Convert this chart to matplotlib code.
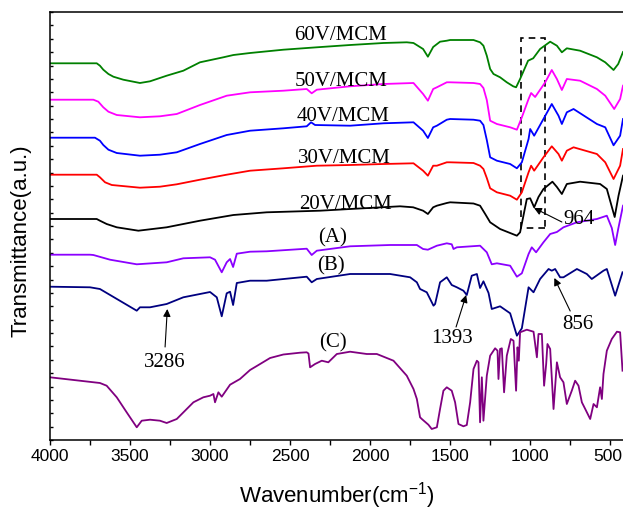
import matplotlib
matplotlib.use("Agg")
import matplotlib.pyplot as plt
from matplotlib.patches import Rectangle
from matplotlib.ticker import MultipleLocator, FixedLocator

# ---- spectra (wavenumber cm-1, transmittance a.u.) ----
wn_60 = [4000, 3708, 3688, 3667, 3635, 3604, 3542, 3438, 3375, 3271, 3167, 3063, 2917, 2854, 2750,
         2542, 2333, 2125, 1917, 1771, 1729, 1669, 1639, 1606, 1563, 1521, 1500, 1354, 1313, 1292,
         1271, 1250, 1229, 1188, 1146, 1106, 1088, 1063, 1013, 981, 938, 875, 833, 802, 771, 688,
         583, 531, 479, 450, 420]
t_60 = [376.7, 376.7, 374.3, 370.3, 366.0, 363.3, 360.3, 357.0, 358.7, 364.3, 369.3, 377.7, 382.7,
        385.0, 387.0, 390.3, 392.7, 395.0, 397.0, 397.7, 397.0, 391.0, 383.3, 393.0, 398.3, 399.3,
        400.0, 400.0, 397.7, 394.3, 384.3, 371.0, 366.0, 362.7, 357.7, 353.7, 352.7, 361.0, 379.3,
        381.7, 391.0, 398.3, 394.3, 387.7, 391.7, 389.3, 382.7, 377.7, 370.0, 376.0, 388.0]

wn_50 = [4000, 3729, 3698, 3667, 3635, 3583, 3438, 3313, 3208, 3063, 2896, 2750, 2542, 2396, 2365,
         2333, 2125, 1917, 1729, 1669, 1639, 1606, 1583, 1521, 1500, 1354, 1313, 1292, 1271, 1250,
         1208, 1125, 1083, 1052, 1010, 994, 969, 906, 865, 833, 802, 771, 688, 583, 531, 475, 438,
         420]
t_50 = [340.3, 340.3, 338.3, 332.7, 328.3, 325.0, 322.7, 323.7, 326.0, 335.0, 344.3, 347.7, 349.3,
        351.0, 346.7, 350.3, 353.7, 356.0, 357.0, 346.0, 339.3, 351.0, 352.7, 357.7, 357.7, 357.0,
        356.0, 352.0, 340.0, 319.3, 316.0, 312.7, 310.3, 322.7, 341.0, 347.0, 343.0, 357.7, 370.0,
        361.0, 350.0, 361.0, 359.3, 351.0, 344.3, 331.0, 341.0, 354.3]

wn_40 = [4000, 3719, 3688, 3667, 3635, 3583, 3438, 3313, 3208, 3063, 2896, 2750, 2542, 2396, 2369,
         2344, 2125, 1917, 1729, 1669, 1639, 1606, 1583, 1521, 1500, 1354, 1313, 1292, 1271, 1250,
         1208, 1125, 1083, 1052, 1010, 1000, 975, 917, 865, 823, 802, 771, 729, 583, 531, 479, 438,
         420]
t_40 = [302.3, 302.3, 299.3, 295.0, 290.3, 287.0, 284.3, 285.3, 287.7, 296.0, 305.0, 309.3, 311.7,
        313.7, 317.7, 315.0, 314.3, 316.7, 317.7, 309.3, 302.0, 312.7, 314.3, 320.3, 321.0, 320.3,
        319.3, 315.0, 300.0, 282.7, 279.3, 276.0, 271.7, 277.7, 301.0, 311.0, 304.3, 321.0, 336.0,
        324.3, 316.0, 327.7, 331.0, 316.0, 312.7, 294.7, 304.3, 321.0]

wn_30 = [4000, 3708, 3688, 3656, 3614, 3438, 3313, 3208, 3063, 2896, 2750, 2542, 2333, 2125, 1917,
         1729, 1669, 1639, 1606, 1583, 1521, 1500, 1354, 1313, 1292, 1271, 1250, 1208, 1125, 1083,
         1052, 1010, 994, 975, 917, 865, 823, 802, 771, 729, 583, 531, 479, 438, 420]
t_30 = [265.3, 265.3, 262.7, 257.7, 255.0, 252.3, 253.3, 255.7, 260.3, 265.3, 269.3, 271.7, 274.3,
        275.0, 276.0, 276.7, 269.3, 264.3, 274.3, 274.3, 277.7, 277.7, 277.0, 274.3, 271.0, 262.0,
        251.7, 247.7, 244.3, 240.3, 247.7, 267.7, 274.3, 269.3, 282.7, 293.7, 286.0, 279.3, 289.3,
        292.7, 286.0, 277.7, 261.0, 274.3, 291.0]

wn_20 = [4000, 3708, 3688, 3646, 3583, 3448, 3271, 3167, 3063, 2854, 2646, 2313, 2125, 1813, 1731,
         1669, 1639, 1606, 1583, 1521, 1500, 1354, 1313, 1281, 1250, 1188, 1083, 1063, 1021, 1000,
         975, 948, 917, 861, 833, 802, 771, 688, 563, 521, 472, 448, 420]
t_20 = [221.0, 221.0, 219.3, 216.0, 212.7, 209.3, 212.7, 216.0, 219.3, 225.0, 227.7, 229.3, 231.0,
        233.7, 232.7, 229.3, 226.0, 232.7, 234.3, 237.0, 237.7, 236.5, 234.3, 226.0, 217.7, 211.0,
        204.3, 207.7, 241.0, 241.7, 232.7, 243.0, 251.0, 258.3, 253.0, 246.0, 256.0, 258.3, 256.0,
        251.0, 223.0, 244.3, 264.3]

wn_a = [4000, 3750, 3729, 3625, 3458, 3271, 3167, 3000, 2969, 2927, 2896, 2875, 2856, 2833, 2750,
        2646, 2396, 2365, 2333, 2125, 1875, 1708, 1669, 1639, 1583, 1521, 1490, 1479, 1458, 1313,
        1271, 1240, 1208, 1125, 1083, 1052, 1010, 990, 963, 917, 875, 833, 792, 708, 583, 521,
        490, 469, 450, 420]
t_a = [185.3, 185.3, 185.0, 180.3, 175.7, 177.7, 181.7, 182.7, 180.3, 167.7, 177.7, 181.0, 173.0,
       186.3, 188.3, 188.7, 191.3, 185.0, 189.3, 193.7, 195.0, 195.0, 191.0, 190.3, 194.3, 196.7,
       195.7, 191.0, 192.7, 194.3, 187.7, 175.7, 176.7, 174.3, 163.3, 166.7, 186.0, 192.7, 187.7,
       197.7, 206.0, 208.0, 212.7, 217.7, 221.0, 224.3, 212.0, 195.0, 211.0, 234.3]

wn_b = [4000, 3750, 3688, 3458, 3438, 3375, 3271, 3167, 3000, 2958, 2927, 2896, 2875, 2856, 2833,
        2750, 2646, 2396, 2365, 2333, 2125, 1875, 1750, 1708, 1688, 1646, 1604, 1594, 1563, 1521,
        1490, 1458, 1417, 1396, 1365, 1333, 1313, 1292, 1260, 1240, 1188, 1125, 1083, 1052, 1010,
        979, 938, 885, 865, 844, 813, 792, 708, 646, 615, 542, 521, 469, 423]
t_b = [153.3, 152.7, 151.0, 129.3, 132.7, 132.7, 136.0, 142.7, 148.0, 142.7, 123.7, 146.7, 148.3,
       135.0, 157.0, 159.3, 159.3, 163.3, 157.7, 161.0, 166.0, 166.0, 162.7, 157.7, 151.0, 147.7,
       134.3, 136.0, 157.7, 162.7, 155.0, 152.7, 149.3, 145.0, 164.3, 166.0, 152.0, 158.7, 147.0,
       131.0, 133.7, 126.7, 104.3, 111.7, 152.7, 147.7, 161.0, 171.0, 169.3, 171.0, 162.7, 162.7,
       171.0, 166.0, 161.0, 169.3, 171.0, 144.3, 167.7]

wn_c = [4000, 3688, 3646, 3583, 3521, 3458, 3427, 3375, 3313, 3271, 3208, 3104, 3042, 3000, 2979,
        2969, 2948, 2927, 2875, 2813, 2750, 2708, 2625, 2542, 2438, 2396, 2385, 2375, 2344, 2302,
        2261, 2208, 2125, 2021, 1958, 1854, 1771, 1729, 1708, 1688, 1677, 1636, 1615, 1583, 1563,
        1542, 1521, 1490, 1469, 1448, 1417, 1396, 1375, 1354, 1333, 1323, 1313, 1302, 1292, 1271,
        1250, 1219, 1204, 1198, 1188, 1177, 1163, 1146, 1121, 1104, 1088, 1079, 1071, 1063, 1021,
        979, 958, 948, 927, 913, 900, 892, 875, 854, 833, 813, 792, 771, 740, 719, 698, 677, 656,
        625, 604, 583, 563, 552, 542, 521, 490, 458, 438, 423]
t_c = [62.7, 57.0, 54.3, 42.7, 27.7, 12.7, 19.3, 20.3, 19.3, 17.0, 21.0, 37.7, 42.7, 44.3, 46.0,
       37.7, 47.7, 43.3, 55.3, 61.0, 70.0, 74.0, 82.0, 85.5, 87.3, 87.7, 86.5, 72.7, 76.0, 79.3,
       77.7, 86.0, 88.3, 86.0, 86.0, 79.3, 64.3, 51.0, 41.0, 22.7, 21.0, 15.3, 11.0, 12.7, 31.0,
       49.3, 52.7, 49.3, 37.7, 16.0, 13.7, 15.0, 37.7, 71.0, 79.3, 77.7, 17.7, 62.7, 19.3, 64.3,
       84.3, 91.7, 89.3, 61.0, 91.0, 91.7, 47.7, 84.3, 101.0, 99.3, 49.3, 92.7, 79.3, 107.7, 110.3,
       108.3, 82.7, 106.0, 106.0, 54.3, 76.0, 96.0, 91.0, 31.0, 77.7, 62.7, 57.7, 36.0, 49.3, 59.3,
       54.3, 37.7, 31.0, 21.0, 36.0, 32.7, 52.7, 41.0, 66.0, 89.3, 101.0, 108.3, 107.7, 69.3]

series = [
    (wn_60, t_60, "#008000"),
    (wn_50, t_50, "#FF00FF"),
    (wn_40, t_40, "#0000FF"),
    (wn_30, t_30, "#FF0000"),
    (wn_20, t_20, "#000000"),
    (wn_a, t_a, "#8B00FF"),
    (wn_b, t_b, "#000080"),
    (wn_c, t_c, "#800080"),
]

# curve labels: (text, right-edge wavenumber, baseline)
sample_labels = [("60V/MCM", 1896, 401.0), ("50V/MCM", 1890, 355.2), ("40V/MCM", 1879, 320.2),
                 ("30V/MCM", 1871, 278.0), ("20V/MCM", 1865, 232.0)]
ref_labels = [("(A)", 2234, 203.0), ("(B)", 2245, 175.2), ("(C)", 2234, 97.7)]
# peak marks: (text, text x, text baseline, arrow tail, arrow head)
peaks = [("3286", 3286, 74.3, (3281, 93), (3267, 131)),
         ("1393", 1490, 97.7, (1463, 113), (1400, 145)),
         ("856", 703, 111.7, (750, 129), (849, 162)),
         ("964", 693, 216.5, (802, 218), (976, 232))]
xticks = [4000, 3500, 3000, 2500, 2000, 1500, 1000, 500]

serif = "Liberation Serif"
sans = "Liberation Sans"
plt.rcParams["mathtext.fontset"] = "custom"
plt.rcParams["mathtext.rm"] = sans
plt.rcParams["mathtext.it"] = sans

fig = plt.figure(figsize=(6.23, 5.10), dpi=100)
ax = fig.add_axes([50 / 623, 69 / 510, 573 / 623, 428 / 510])

for wn, t, c in series:
    ax.plot(wn, t, color=c, lw=1.3)

for txt, x, y in sample_labels:
    ax.text(x, y, txt, family=serif, fontsize=15, ha="right", va="baseline")
for txt, x, y in ref_labels:
    ax.text(x, y, txt, family=serif, fontsize=15, ha="center", va="center")
for txt, x, y, tail, head in peaks:
    ax.text(x, y, txt, family=serif, fontsize=15, ha="center", va="baseline")
    ax.annotate("", xy=head, xytext=tail,
                arrowprops=dict(arrowstyle="-|>", color="black", lw=0.8,
                                mutation_scale=11, shrinkA=0, shrinkB=0))

# dashed box around the 964 band
ax.add_patch(Rectangle((906, 211.7), 1058 - 906, 402 - 211.7, fill=False,
                       ec="black", lw=1.2, ls=(0, (4, 3))))

ax.set_xlim(4000, 420)
ax.set_ylim(0, 428)
ax.xaxis.set_major_locator(FixedLocator(xticks))
ax.xaxis.set_minor_locator(MultipleLocator(250))
# last label sits on the image edge, drawn by hand a touch to the left
ax.set_xticklabels([str(v) for v in xticks[:-1]] + [""])
ax.text(512, -0.0178, str(xticks[-1]), transform=ax.get_xaxis_transform(),
        family=sans, fontsize=12.5, ha="center", va="top")
ax.yaxis.set_major_locator(MultipleLocator(26.75))
ax.yaxis.set_minor_locator(MultipleLocator(13.375))
ax.tick_params(axis="x", which="both", direction="out", length=3.5, width=1, pad=2,
               labelsize=12.5)
ax.tick_params(axis="y", which="both", direction="in", length=2, width=1, labelleft=False)
for lab in ax.get_xticklabels():
    lab.set_family(sans)
ax.spines["right"].set_visible(False)
for s in ["left", "bottom", "top"]:
    ax.spines[s].set_linewidth(1.1)

fig.text(337 / 623, 1 - 496 / 510, "Wavenumber(cm$^{-1}$)", family=sans, fontsize=16,
         ha="center", va="center")
fig.text(21 / 623, 1 - 241 / 510, "Transmittance(a.u.)", family=sans, fontsize=16,
         rotation=90, ha="center", va="center")

fig.savefig("out.png", dpi=100)
